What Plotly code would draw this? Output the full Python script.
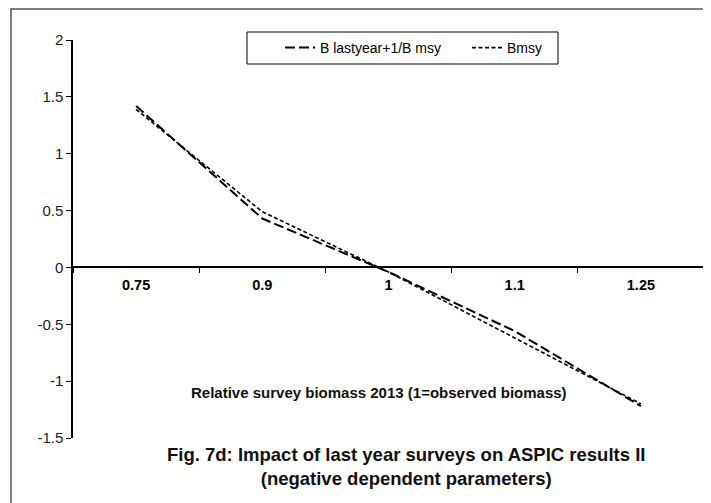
import plotly.graph_objects as go

categories = ["0.75", "0.9", "1", "1.1", "1.25"]
b_lastyear = [1.42, 0.43, -0.04, -0.56, -1.22]
bmsy = [1.39, 0.49, -0.04, -0.62, -1.20]
y_ticks = [-1.5, -1, -0.5, 0, 0.5, 1, 1.5, 2]
y_ticktext = ["-1.5", "-1", "-0.5", "0", "0.5", "1", "1.5", "2"]

FONT = "Liberation Sans, Arial, sans-serif"

# page body adds an 8px offset; the figure is sized to fill the rest of the window
OFF = 8
W, H = 711 - OFF, 503 - OFF
L, R, T, B = 73 - OFF, 7, 40 - OFF, 65
PW, PH = W - L - R, H - T - B


def px_x(sx):
    return (sx - OFF - L) / PW


def px_y(sy):
    return (H - B - (sy - OFF)) / PH


fig = go.Figure()
fig.add_trace(go.Scatter(
    x=categories, y=b_lastyear, mode="lines", name="B lastyear+1/B msy",
    line=dict(color="black", width=2, dash="10px,4px")))
fig.add_trace(go.Scatter(
    x=categories, y=bmsy, mode="lines", name="Bmsy",
    line=dict(color="black", width=1.6, dash="4px,2.5px")))

fig.update_layout(
    width=W, height=H,
    margin=dict(l=L, r=R, t=T, b=B, autoexpand=False),
    paper_bgcolor="white", plot_bgcolor="white",
    font=dict(family=FONT, size=14, color="#222"),
    showlegend=True,
    legend=dict(orientation="h", x=px_x(280), y=px_y(48), xanchor="left", yanchor="middle",
                borderwidth=0, bgcolor="rgba(0,0,0,0)", entrywidth=142,
                font=dict(size=14, color="black"), tracegroupgap=0),
    xaxis=dict(type="category", anchor="free", position=1.5 / 3.5,
               showline=True, linecolor="black", linewidth=1.5,
               ticks="outside", tickson="boundaries", ticklen=5, tickcolor="black",
               ticklabelstandoff=4,
               tickfont=dict(size=14.5, color="black", family=FONT, weight="bold"),
               showgrid=False, zeroline=False, range=[-0.5, 4.5]),
    yaxis=dict(range=[-1.5, 2], tickvals=y_ticks, ticktext=y_ticktext,
               showline=True, linecolor="black", linewidth=1.5,
               ticks="outside", ticklen=5, tickcolor="black",
               showgrid=False, zeroline=False,
               tickfont=dict(size=15, color="#222")),
    annotations=[
        dict(text="<b>Relative survey biomass 2013 (1=observed biomass)</b>",
             xref="paper", yref="paper", x=px_x(379), y=px_y(392),
             xanchor="center", yanchor="middle", showarrow=False,
             font=dict(size=15, color="#111")),
        dict(text="<b>Fig. 7d: Impact of last year surveys on ASPIC results II<br>(negative dependent parameters)</b>",
             xref="paper", yref="paper", x=px_x(406), y=px_y(466),
             xanchor="center", yanchor="middle", showarrow=False,
             font=dict(size=18.5, color="#111")),
    ],
    shapes=[
        dict(type="rect", xref="paper", yref="paper",
             x0=px_x(11), x1=1.1, y0=-0.3, y1=px_y(9),
             line=dict(color="#555", width=1.5), layer="below"),
        dict(type="rect", xref="paper", yref="paper",
             x0=px_x(247), x1=px_x(558), y0=px_y(64), y1=px_y(32),
             line=dict(color="black", width=1), fillcolor="white", layer="below"),
    ],
)

fig.write_html("out.html")
